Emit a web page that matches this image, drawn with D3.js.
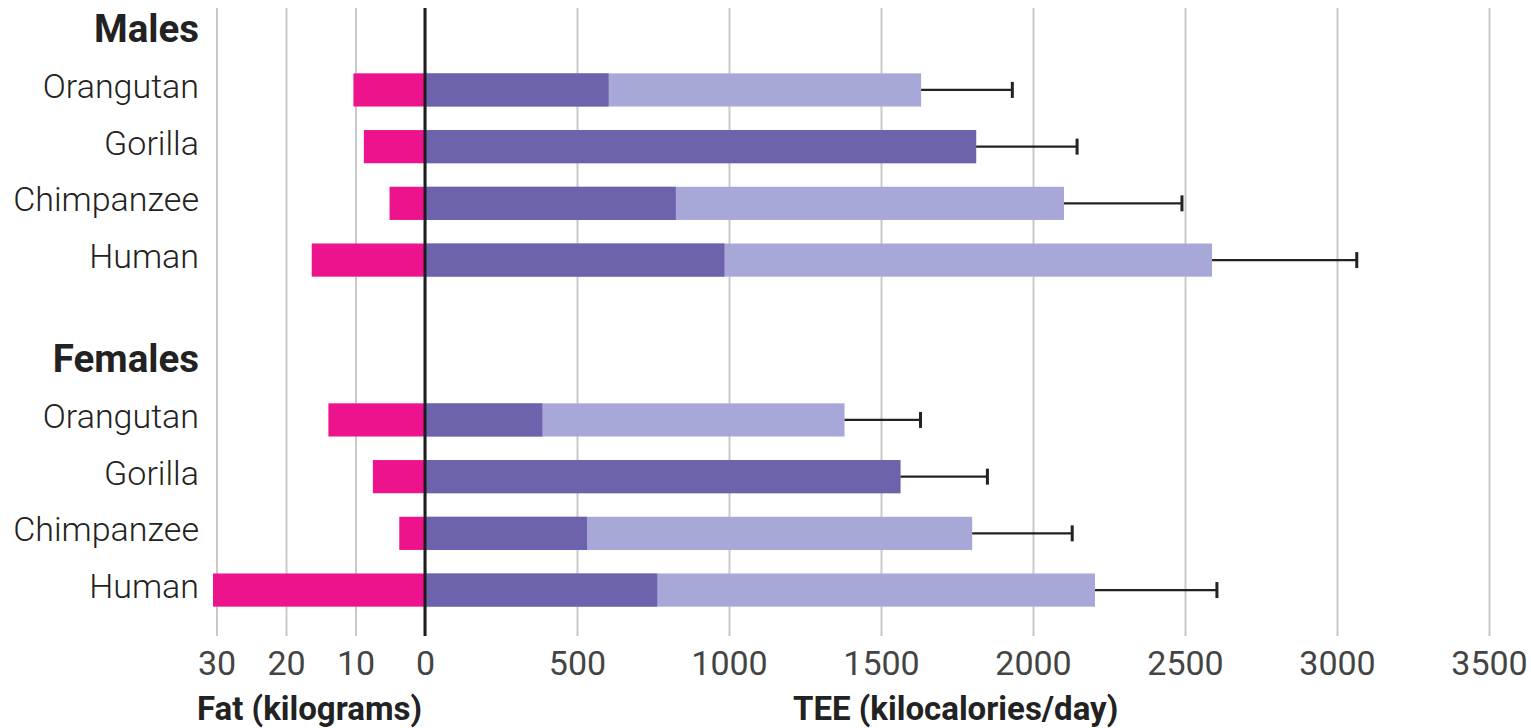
<!DOCTYPE html>
<html>
<head>
<meta charset="utf-8">
<script src="https://cdn.jsdelivr.net/npm/d3@7"></script>
<style>
  body { margin: 0; background: #fff; }
  svg { font-family: Roboto, "Noto Sans", sans-serif; }
  .label { fill: #222; font-size: 34px; font-weight: 300; }
  .header { fill: #222; font-size: 38.5px; font-weight: 700; }
  .axis text { fill: #444; font-size: 34px; font-weight: 400; font-family: Roboto, sans-serif; }
  .axis .domain { display: none; }
  .axis line { stroke: #c9c9c9; stroke-width: 2; }
  .title { fill: #222; font-size: 33px; font-weight: 700; }
</style>
</head>
<body>
<svg id="chart"></svg>
<script>
// data
var species = ["Orangutan", "Gorilla", "Chimpanzee", "Human"];
var groups = ["Males", "Females"];

// fat, kilograms (drawn to the left of zero)
var maleFat = [10.3, 8.8, 5.1, 16.3];
var femaleFat = [13.9, 7.5, 3.7, 30.5];

// dark segment (kcal/day)
var maleDark = [604, 1813, 825, 985];
var femaleDark = [386, 1564, 533, 764];

// full TEE bar end (kcal/day)
var maleTee = [1632, 1813, 2102, 2589];
var femaleTee = [1380, 1564, 1800, 2204];

// error bar end (kcal/day)
var maleErr = [1932, 2145, 2490, 3065];
var femaleErr = [1630, 1850, 2129, 2605];

var fatTicks = [30, 20, 10, 0];
var teeTicks = [500, 1000, 1500, 2000, 2500, 3000, 3500];

var colors = { fat: "#ec138c", dark: "#6d63ad", light: "#a7a8d8" };

var screen = { width: 1531, height: 728 };
var plot = { top: 8, bottom: 636 };

var svg = d3.select("#chart")
  .attr("width", screen.width)
  .attr("height", screen.height);

var fatScale = d3.scaleLinear().domain([30, 0]).range([216.5, 425]);
var teeScale = d3.scaleLinear().domain([0, 3500]).range([425, 1489]);

// one band scale per group of rows
var groupRanges = { Males: [62, 288], Females: [392, 618] };
var headerY = { Males: 42, Females: 372 };

var bandFor = function (group) {
  return d3.scaleBand()
    .domain(species)
    .range(groupRanges[group])
    .paddingInner(0.415)
    .paddingOuter(0.2);
};

var rows = [];
groups.forEach(function (g) {
  var fat = g == "Males" ? maleFat : femaleFat;
  var dark = g == "Males" ? maleDark : femaleDark;
  var tee = g == "Males" ? maleTee : femaleTee;
  var err = g == "Males" ? maleErr : femaleErr;
  species.forEach(function (s, i) {
    rows.push({ group: g, species: s, fat: fat[i], dark: dark[i], tee: tee[i], err: err[i] });
  });
});

// gridlines + tick labels
var gridSize = plot.bottom - plot.top;
var fatAxis = d3.axisBottom(fatScale).tickValues(fatTicks)
  .tickSizeInner(-gridSize).tickSizeOuter(0).tickPadding(15)
  .tickFormat(d3.format("d"));
var teeAxis = d3.axisBottom(teeScale).tickValues(teeTicks)
  .tickSizeInner(-gridSize).tickSizeOuter(0).tickPadding(15)
  .tickFormat(d3.format("d"));

svg.append("g").classed("axis", true)
  .attr("transform", "translate(0," + plot.bottom + ")")
  .call(fatAxis);
svg.append("g").classed("axis", true)
  .attr("transform", "translate(0," + plot.bottom + ")")
  .call(teeAxis);

var bars = svg.append("g").classed("bars", true);

rows.forEach(function (d) {
  var band = bandFor(d.group);
  var y = band(d.species);
  var h = band.bandwidth();
  var cy = y + h / 2;

  bars.append("rect")
    .attr("x", fatScale(d.fat))
    .attr("y", y)
    .attr("width", fatScale(0) - fatScale(d.fat))
    .attr("height", h)
    .style("fill", colors.fat);

  bars.append("rect")
    .attr("x", teeScale(0))
    .attr("y", y)
    .attr("width", teeScale(d.tee) - teeScale(0))
    .attr("height", h)
    .style("fill", colors.light);

  bars.append("rect")
    .attr("x", teeScale(0))
    .attr("y", y)
    .attr("width", teeScale(d.dark) - teeScale(0))
    .attr("height", h)
    .style("fill", colors.dark);

  // error bar
  bars.append("line")
    .attr("x1", teeScale(d.tee)).attr("x2", teeScale(d.err))
    .attr("y1", cy).attr("y2", cy)
    .style("stroke", "#222").style("stroke-width", 2.2);
  bars.append("line")
    .attr("x1", teeScale(d.err)).attr("x2", teeScale(d.err))
    .attr("y1", cy - 8).attr("y2", cy + 8)
    .style("stroke", "#222").style("stroke-width", 3);

  svg.append("text")
    .classed("label", true)
    .attr("text-anchor", "end")
    .attr("x", 199)
    .attr("y", cy + 8)
    .text(d.species);
});

// zero line
svg.append("line")
  .attr("x1", teeScale(0)).attr("x2", teeScale(0))
  .attr("y1", plot.top).attr("y2", plot.bottom)
  .style("stroke", "#1c1c1c").style("stroke-width", 3);

groups.forEach(function (g) {
  svg.append("text")
    .classed("header", true)
    .attr("text-anchor", "end")
    .attr("x", 199)
    .attr("y", headerY[g])
    .text(g);
});

svg.append("text").classed("title", true)
  .attr("x", 197).attr("y", 720)
  .text("Fat (kilograms)");
svg.append("text").classed("title", true)
  .attr("x", 793).attr("y", 720)
  .text("TEE (kilocalories/day)");
</script>
</body>
</html>
